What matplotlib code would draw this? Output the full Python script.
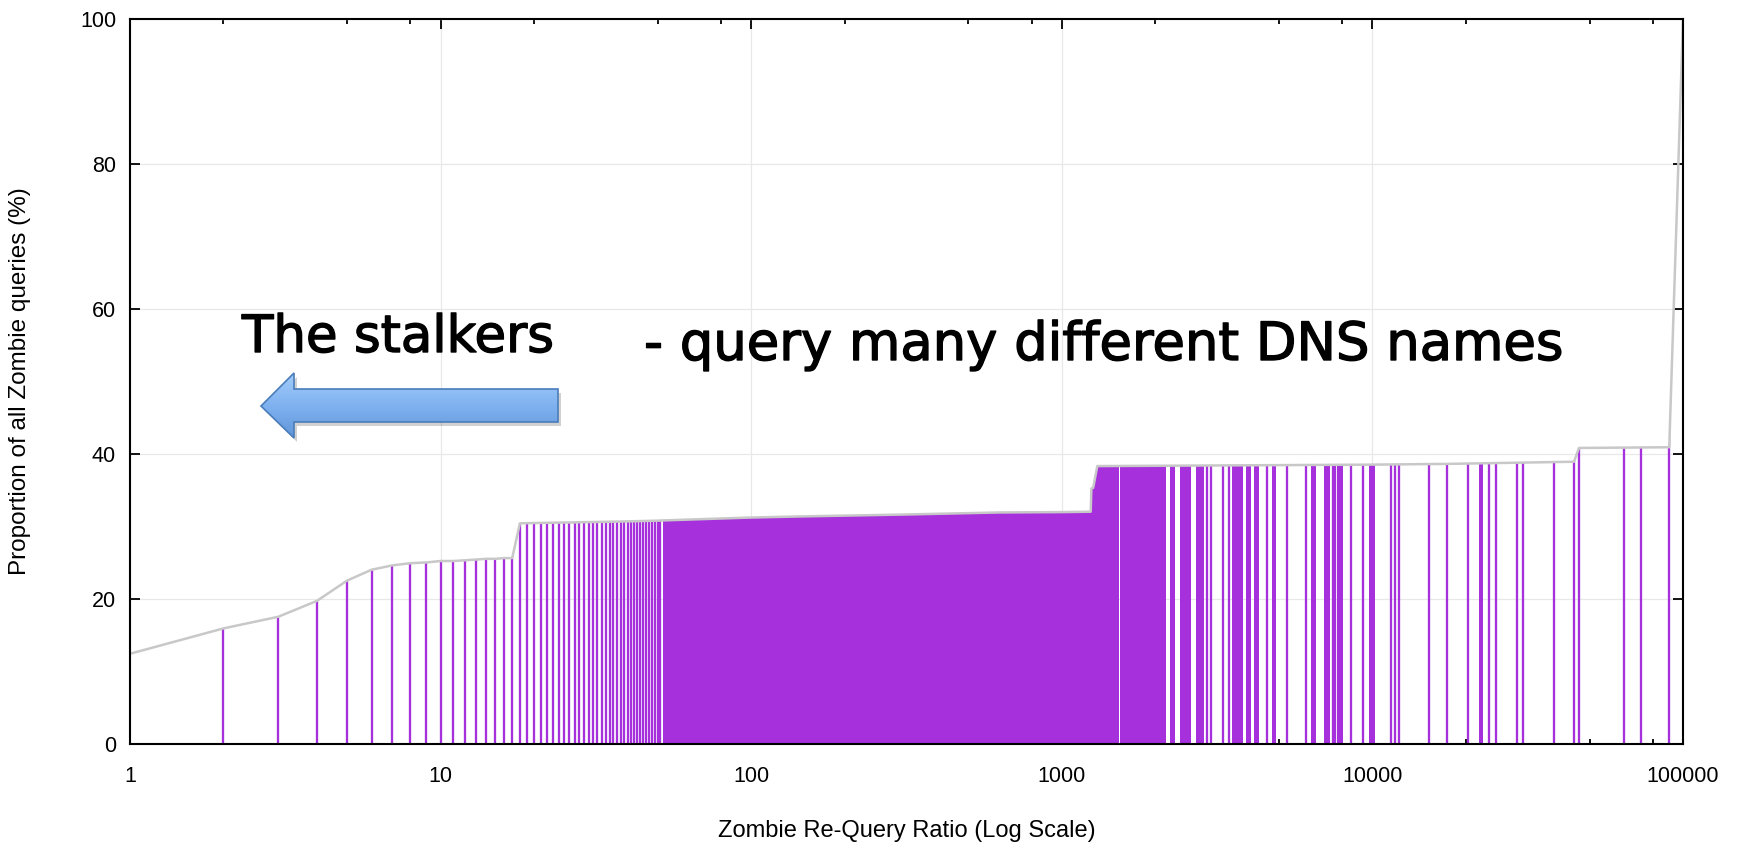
import numpy as np
import matplotlib
matplotlib.use('Agg')
import matplotlib.pyplot as plt
from matplotlib import patches, patheffects
from matplotlib.colors import LinearSegmentedColormap
from matplotlib.ticker import LogLocator, NullFormatter

# 累积曲线 (re-query ratio -> % of zombie queries)
ratio = [1, 2, 3, 4, 5, 6, 7, 8, 9, 10, 11, 12, 13, 14, 15, 16, 17, 18,
         19, 20, 21, 22, 23, 24, 25, 26, 27, 28, 29, 30, 31, 32, 33, 34, 35,
         36, 37, 38, 39, 40, 41, 42, 43, 44, 45, 46, 47, 48, 49, 50, 51,
         52, 100, 144, 300, 632, 1000, 1239, 1245, 1262, 1301,
         10000, 17340, 44570, 46240, 90300, 100000]
pct = [12.4, 15.9, 17.5, 19.7, 22.5, 24.0, 24.6, 24.9, 25.0, 25.2, 25.2, 25.3,
       25.4, 25.5, 25.5, 25.6, 25.6, 30.4,
       30.42, 30.44, 30.45, 30.47, 30.48, 30.50, 30.51, 30.52, 30.53, 30.55,
       30.56, 30.57, 30.58, 30.59, 30.60, 30.61, 30.62, 30.63, 30.64, 30.65,
       30.66, 30.67, 30.68, 30.69, 30.70, 30.71, 30.72, 30.73, 30.74, 30.75,
       30.76, 30.77, 30.78,
       30.8, 31.2, 31.35, 31.6, 31.9, 31.95, 32.0, 35.2, 35.3, 38.3,
       38.5, 38.6, 38.9, 40.8, 40.9, 100.0]

# 单根脉冲的位置
impulse_x = list(range(2, 52)) + [
    2928, 3016, 3296, 3462, 4566, 5297, 6097, 7448, 7579, 8511, 9348,
    11481, 11826, 12180, 15220, 17340, 20370, 23790, 24940, 29140, 30470,
    38430, 44570, 46240, 64720, 73250, 90300]

# 脉冲密集到连成一片的区间
dense_lo = [52, 1534, 2235, 2407, 2704, 3540, 3918, 4157, 4739, 6329, 6999, 7710, 9773, 22080]
dense_hi = [1528, 2165, 2318, 2606, 2877, 3823, 4056, 4305, 4893, 6581, 7303, 8054, 10195, 22640]

xticks = [1, 10, 100, 1000, 10000, 100000]
xtick_labels = ['1', '10', '100', '1000', '10000', '100000']
yticks = [0, 20, 40, 60, 80, 100]

purple = '#a530dc'
W, H = 1748, 848

fig = plt.figure(figsize=(W / 100, H / 100), dpi=100)
ax = fig.add_axes([130 / W, 1 - 743.6 / H, 1553 / W, 724.6 / H])
ax.set_xscale('log')
ax.set_xlim(1, 100000)
ax.set_ylim(0, 100)

# area under the curve, used to cut impulses at the line
under = patches.Polygon(list(zip(ratio, pct)) + [(ratio[-1], 0), (ratio[0], 0)],
                        closed=True, transform=ax.transData)

imp = ax.vlines(impulse_x, 0, 100, color=purple, lw=1.65, zorder=2)
imp.set_clip_path(under)
for a, b in zip(dense_lo, dense_hi):
    sp = ax.axvspan(a, b, color=purple, lw=0, zorder=2)
    sp.set_clip_path(under)

ax.plot(ratio, pct, color='#c8c8c8', lw=1.8, zorder=3)

# axes cosmetics
ax.set_axisbelow(True)
ax.grid(True, which='major', color='#e8e8e8', lw=0.9)
for s in ax.spines.values():
    s.set_linewidth(1.5)
    s.set_zorder(5)
ax.set_xticks(xticks)
ax.set_xticklabels(xtick_labels)
ax.xaxis.set_minor_locator(LogLocator(base=10, subs=(2, 5, 8)))
ax.xaxis.set_minor_formatter(NullFormatter())
ax.set_yticks(yticks)
ax.tick_params(which='both', direction='in', top=True, right=True, width=1.3,
               labelsize=15.5, labelfontfamily='Liberation Sans')
ax.tick_params(axis='x', which='major', length=7, pad=16)
ax.tick_params(axis='x', which='minor', length=3.5)
ax.tick_params(axis='y', which='major', length=7, pad=10)

lab_font = ['Liberation Sans Narrow', 'Liberation Sans']
ax.set_xlabel('Zombie Re-Query Ratio (Log Scale)', fontsize=17, family=lab_font, va='top')
ax.set_ylabel('Proportion of all Zombie queries (%)', fontsize=17.5, family=lab_font)
ax.xaxis.set_label_coords(0.5, (743.6 - 820) / 724.6)
ax.yaxis.set_label_coords((31 - 130) / 1553, 0.5)

# hand written notes
pe = [patheffects.withStroke(linewidth=1.0, foreground='black')]
fig.text(242 / W, 1 - 352 / H, 'The stalkers', fontsize=37, va='baseline',
         family='DejaVu Sans', path_effects=pe)
fig.text(644 / W, 1 - 360 / H, '- query many different DNS names', fontsize=38,
         va='baseline', family='DejaVu Sans', path_effects=pe)

# blue block arrow pointing left
x0, x1, y0, y1 = 255, 566, 366, 446
aa = fig.add_axes([x0 / W, 1 - y1 / H, (x1 - x0) / W, (y1 - y0) / H])
aa.set_xlim(x0, x1)
aa.set_ylim(y1, y0)
aa.axis('off')
arrow_pts = [(261, 406), (294, 373), (294, 389), (558, 389),
             (558, 422), (294, 422), (294, 438)]
shadow = patches.Polygon([(px + 3, py + 4) for px, py in arrow_pts], closed=True,
                         fc='#000000', alpha=0.18, lw=0)
aa.add_patch(shadow)
arrow = patches.Polygon(arrow_pts, closed=True, fc='none', ec='#4a7dbb', lw=1.2, zorder=3)
aa.add_patch(arrow)
grad = np.linspace(0, 1, 64).reshape(-1, 1)
cmap = LinearSegmentedColormap.from_list('blu', ['#a3ccfa', '#80b2f0', '#5f95d8'])
im = aa.imshow(grad, cmap=cmap, extent=(261, 558, 438, 373), aspect='auto', zorder=2)
clip = patches.Polygon(arrow_pts, closed=True, transform=aa.transData)
im.set_clip_path(clip)

fig.savefig('out.png', dpi=100)
